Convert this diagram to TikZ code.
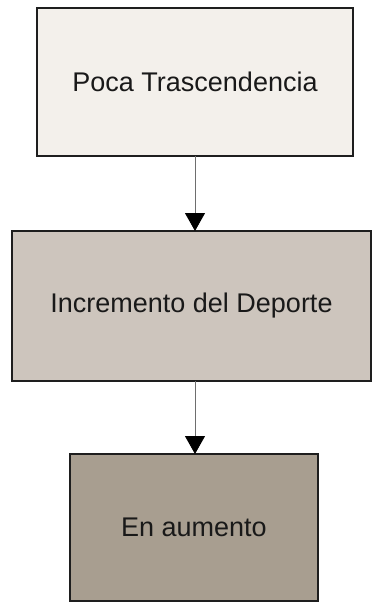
\documentclass[tikz,border=0pt]{standalone}
\usepackage{fontspec}
\setmainfont{Liberation Sans}
\usepackage{tikz}
\usetikzlibrary{positioning,arrows.meta}
\definecolor{cedge}{HTML}{1E1E1E}
\definecolor{cline}{HTML}{6E6E6E}
\definecolor{ctop}{HTML}{F3F0EB}
\definecolor{cmid}{HTML}{CDC5BD}
\definecolor{cbot}{HTML}{A89E90}
\tikzset{
  box/.style   ={draw=cedge, line width=1.3pt, inner sep=0pt, outer sep=0pt,
                 align=center, font=\fontsize{27}{32}\selectfont, text=black!90},
  topbox/.style={box, fill=ctop},
  midbox/.style={box, fill=cmid},
  botbox/.style={box, fill=cbot},
  flow/.style  ={-{Triangle[length=18pt,width=20pt,color=black]}, line width=0.9pt, draw=cline},
}
\begin{document}
\begin{tikzpicture}
  \useasboundingbox (0,0) rectangle (372pt,-603pt);
  \node[topbox, minimum width=316pt, minimum height=148pt] (poca) at (195pt,-82pt) {Poca Trascendencia};
  \node[midbox, below=75pt of poca, xshift=-3.5pt, minimum width=359pt, minimum height=150pt] (incr) {Incremento del Deporte};
  \node[botbox, below=73pt of incr, xshift=2.5pt, minimum width=248pt, minimum height=147pt] (aum) {En aumento};
  \draw[flow] (poca.south) -- (poca.south |- incr.north);
  \draw[flow] (poca.south |- incr.south) -- (poca.south |- aum.north);
\end{tikzpicture}
\end{document}
